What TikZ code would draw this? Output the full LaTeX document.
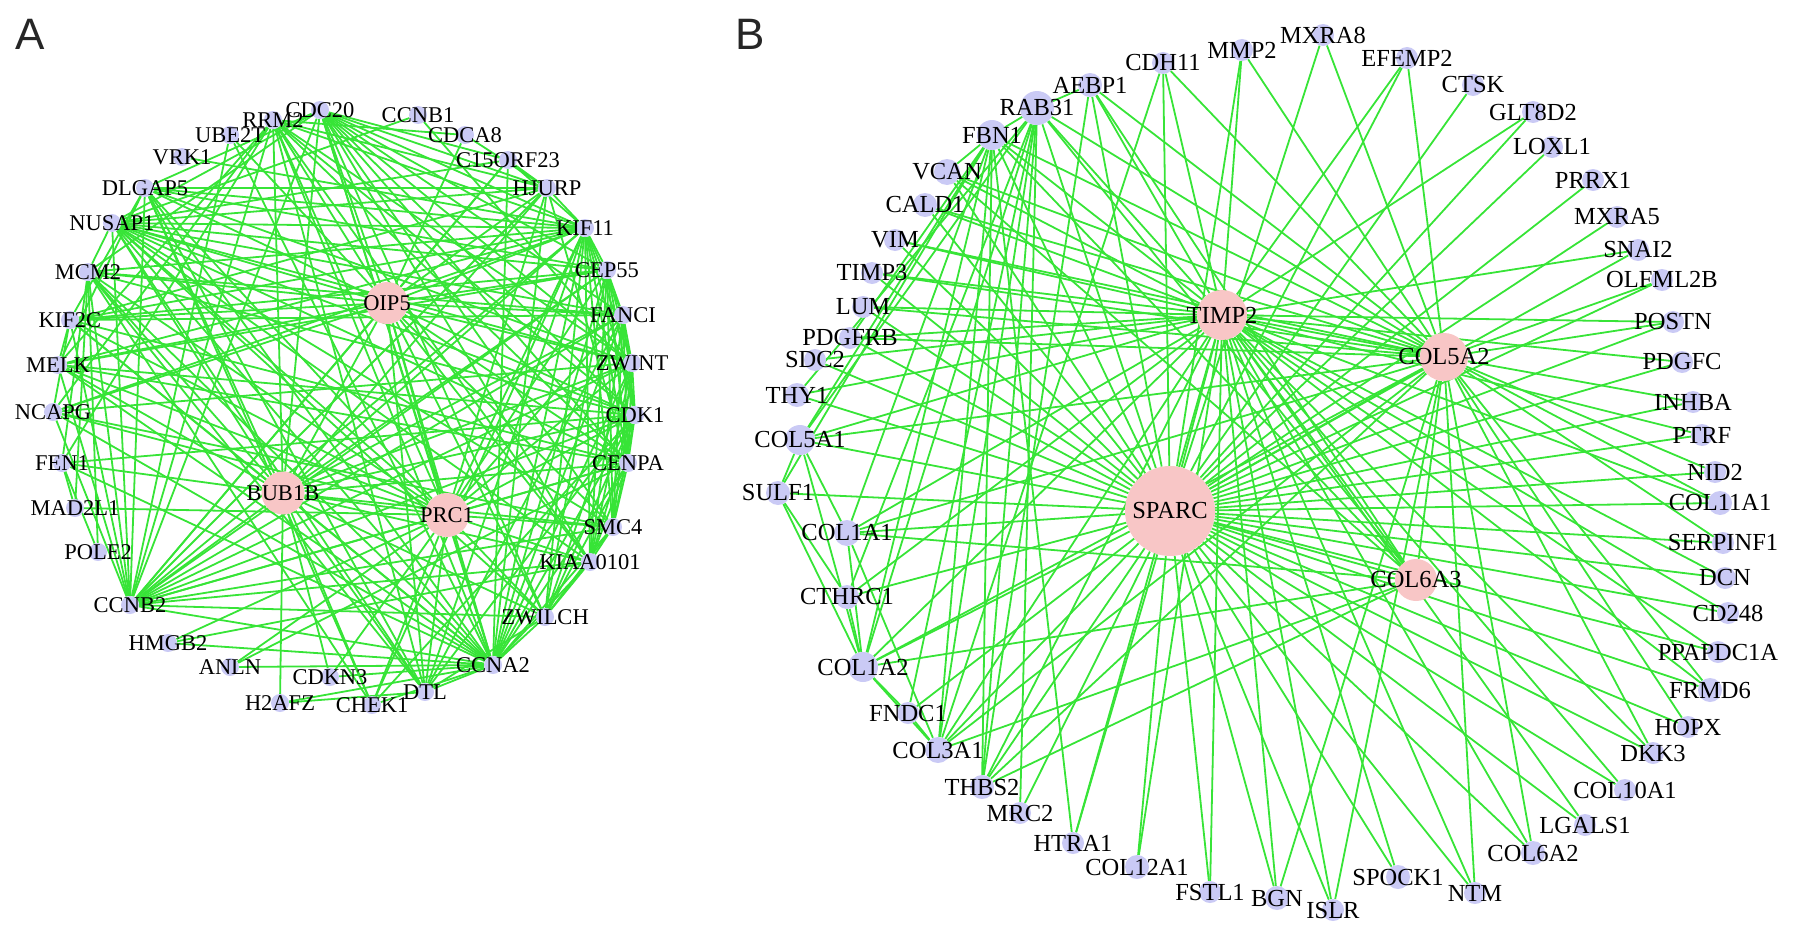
\documentclass[tikz,border=0pt]{standalone}
\usepackage{fontspec}
\setmainfont{Liberation Serif}
\newfontfamily\panelfont{Liberation Sans}
\newcommand\labA{\fontsize{22.5}{22.5}\selectfont}
\newcommand\labB{\fontsize{24.5}{24.5}\selectfont}
\definecolor{eg}{RGB}{55,228,55}
\definecolor{nb}{RGB}{202,202,245}
\definecolor{hp}{RGB}{248,198,198}
\pgfdeclarelayer{edges}
\pgfsetlayers{edges,main}
\tikzset{
 pa/.style={circle, fill=nb, minimum size=18pt, inner sep=0pt},
 pb/.style={circle, fill=nb, minimum size=22pt, inner sep=0pt},
 hub/.style={circle, fill=hp, inner sep=0pt},
 la/.style={font=\labA, text=black, inner sep=0pt},
 lb/.style={font=\labB, text=black, inner sep=0pt},
 ed/.style={draw=eg, line width=1.8pt},
 panel/.style={font=\panelfont\fontsize{44}{44}\selectfont, text=black!85}
}
\begin{document}
\begin{tikzpicture}[x=1pt,y=-1pt]
\useasboundingbox (0,0) rectangle (1795,934);
\node[panel] (LA) at (30,34) {A};
\node[panel] (LB) at (750,34) {B};
% ---------------- Panel A nodes
\foreach \n/\x/\y in {CDC20/320/110, CCNB1/418/115, CDCA8/465/135, C15ORF23/508/160, HJURP/547/188, KIF11/585/228, CEP55/607/270, FANCI/623/315, ZWINT/632/363, CDK1/635/415, CENPA/628/463, SMC4/613/527, KIAA0101/590/562, ZWILCH/545/617, CCNA2/493/665, DTL/425/692, CHEK1/372/705, CDKN3/330/677, H2AFZ/280/703, ANLN/230/667, HMGB2/168/643, CCNB2/130/605, POLE2/98/552, MAD2L1/75/508, FEN1/62/463, NCAPG/53/412, MELK/58/365, KIF2C/70/320, MCM2/88/272, NUSAP1/112/223, DLGAP5/145/188, VRK1/182/157, UBE2T/230/135, RRM2/273/120}
  \node[pa, label={[la]center:\n}] (\n) at (\x,\y) {};
\node[hub, minimum size=42pt, label={[la]center:OIP5}] (OIP5) at (387,303) {};
\node[hub, minimum size=43pt, label={[la]center:BUB1B}] (BUB1B) at (283,493) {};
\node[hub, minimum size=44pt, label={[la]center:PRC1}] (PRC1) at (447,515) {};
% ---------------- Panel B nodes
\foreach \n/\x/\y/\s in {AEBP1/1090/85/24, CDH11/1163/63/22, MMP2/1242/50/22, MXRA8/1323/35/22, EFEMP2/1407/58/22, CTSK/1473/85/22, GLT8D2/1533/112/22, LOXL1/1552/147/22, PRRX1/1593/180/22, MXRA5/1617/217/22, SNAI2/1638/250/22, OLFML2B/1662/280/22, POSTN/1673/322/22, PDGFC/1682/362/22, INHBA/1693/402/22, PTRF/1702/435/22, NID2/1715/472/22, COL11A1/1720/503/24, SERPINF1/1723/543/22, DCN/1725/578/22, CD248/1728/613/22, PPAPDC1A/1718/652/22, FRMD6/1710/690/24, HOPX/1688/727/22, DKK3/1653/753/22, COL10A1/1625/790/22, LGALS1/1585/825/22, COL6A2/1533/853/24, NTM/1475/893/22, SPOCK1/1398/877/24, ISLR/1333/910/22, BGN/1277/898/24, FSTL1/1210/892/22, COL12A1/1137/867/24, HTRA1/1073/843/22, MRC2/1020/813/22, THBS2/982/787/24, COL3A1/938/750/26, FNDC1/908/713/22, COL1A2/863/667/30, CTHRC1/847/597/24, COL1A1/847/533/26, SULF1/778/493/24, COL5A1/800/440/30, THY1/797/395/24, SDC2/815/360/22, PDGFRB/850/338/22, LUM/863/307/22, TIMP3/872/273/22, VIM/895/240/22, CALD1/925/205/24, VCAN/947/172/26, FBN1/992/135/30, RAB31/1037/108/34}
  \node[pb, minimum size=\s pt, label={[lb]center:\n}] (\n) at (\x,\y) {};
\node[hub, minimum size=50pt, label={[lb]center:TIMP2}] (TIMP2) at (1222,315) {};
\node[hub, minimum size=48pt, label={[lb]center:COL5A2}] (COL5A2) at (1444,357) {};
\node[hub, minimum size=90pt, label={[lb]center:SPARC}] (SPARC) at (1170,511) {};
\node[hub, minimum size=42pt, label={[lb]center:COL6A3}] (COL6A3) at (1416,580) {};
% ---------------- Edges
\begin{pgfonlayer}{edges}
\foreach \h/\lst in {
 OIP5/{NUSAP1,MCM2,KIF2C,DLGAP5,RRM2,CDC20,UBE2T,KIF11,HJURP,CEP55,FANCI,ZWINT,CDK1,CENPA,CCNA2,CCNB2,ZWILCH,KIAA0101,DTL,BUB1B,PRC1,MELK,C15ORF23,NCAPG,SMC4,CDCA8},
 BUB1B/{CDC20,RRM2,NUSAP1,DLGAP5,MCM2,KIF2C,CCNB2,CCNA2,KIF11,CDK1,ZWINT,FANCI,CENPA,SMC4,ZWILCH,DTL,CHEK1,PRC1,HJURP,MELK,FEN1,CEP55,KIAA0101,H2AFZ,CDKN3},
 PRC1/{NUSAP1,KIF11,CEP55,CDK1,CCNA2,CCNB2,ZWINT,CENPA,DLGAP5,KIF2C,ZWILCH,KIAA0101,RRM2,CDC20,HMGB2,ANLN,CDKN3,MCM2,SMC4,CHEK1,DTL,FANCI,HJURP,MELK,NCAPG,MAD2L1},
 CDC20/{KIF11,CEP55,FANCI,ZWINT,CDK1,CCNA2,CCNB2,NUSAP1,DLGAP5,MCM2,CENPA,ZWILCH,KIAA0101,SMC4,HJURP,C15ORF23},
 RRM2/{KIF11,CDK1,ZWINT,CCNA2,MELK,NCAPG,FEN1,CCNB2,KIAA0101,HJURP,CENPA,CDCA8,DTL},
 NUSAP1/{KIF11,CEP55,FANCI,ZWINT,CDK1,CCNA2,CCNB2,HJURP,CENPA,SMC4,ZWILCH,KIAA0101,DTL,MCM2,C15ORF23,CCNB1},
 CCNB2/{KIF11,CEP55,ZWINT,CDK1,CCNA2,HJURP,MCM2,DLGAP5,KIF2C,MELK,CENPA,FANCI,SMC4,ZWILCH,KIAA0101,UBE2T,NCAPG,C15ORF23},
 CCNA2/{KIF11,CEP55,FANCI,ZWINT,CDK1,CENPA,SMC4,KIAA0101,ZWILCH,DTL,CHEK1,MCM2,KIF2C,MELK,NCAPG,FEN1,DLGAP5,HJURP,C15ORF23,CDKN3,ANLN,HMGB2},
 KIF11/{CEP55,FANCI,ZWINT,CDK1,CENPA,SMC4,KIAA0101,ZWILCH,DLGAP5,KIF2C,MCM2,MELK,NCAPG,DTL,HJURP,CHEK1,C15ORF23},
 CEP55/{FANCI,ZWINT,CDK1,CENPA,ZWILCH,KIAA0101,DLGAP5,KIF2C,MELK,SMC4},
 FANCI/{ZWINT,CDK1,CENPA,SMC4,MCM2,DTL,KIF2C,KIAA0101},
 ZWINT/{CDK1,CENPA,SMC4,ZWILCH,KIAA0101,DLGAP5,NCAPG},
 CDK1/{CENPA,SMC4,KIAA0101,ZWILCH,DTL,MELK,FEN1,MCM2,CHEK1},
 CENPA/{SMC4,ZWILCH,KIAA0101,MELK,HJURP,KIF2C},
 SMC4/{KIAA0101,ZWILCH,NCAPG},
 ZWILCH/{KIAA0101,DTL},
 DLGAP5/{HJURP,KIF2C,MELK,CHEK1,DTL},
 KIF2C/{MELK,NCAPG,HJURP},
 MCM2/{FEN1,MAD2L1,CHEK1,POLE2,DTL},
 HJURP/{C15ORF23,CDCA8},
 FEN1/{MAD2L1,POLE2},
 H2AFZ/{DTL,CCNA2},
 VRK1/{KIF11}, UBE2T/{CCNA2}, CCNB1/{ZWINT}, HMGB2/{KIAA0101}, ANLN/{CENPA},
 SPARC/{AEBP1,CDH11,MMP2,MXRA8,EFEMP2,CTSK,GLT8D2,LOXL1,PRRX1,MXRA5,SNAI2,OLFML2B,POSTN,PDGFC,INHBA,PTRF,NID2,COL11A1,SERPINF1,DCN,CD248,PPAPDC1A,FRMD6,HOPX,DKK3,COL10A1,LGALS1,COL6A2,NTM,SPOCK1,ISLR,BGN,FSTL1,COL12A1,HTRA1,MRC2,THBS2,COL3A1,FNDC1,COL1A2,CTHRC1,COL1A1,SULF1,COL5A1,THY1,SDC2,PDGFRB,LUM,TIMP3,VIM,CALD1,VCAN,FBN1,RAB31,TIMP2,COL5A2,COL6A3},
 TIMP2/{AEBP1,CDH11,MMP2,EFEMP2,GLT8D2,SNAI2,POSTN,PDGFC,PTRF,COL11A1,DCN,CD248,PPAPDC1A,FRMD6,DKK3,COL10A1,LGALS1,COL6A2,NTM,SPOCK1,ISLR,BGN,FSTL1,COL12A1,HTRA1,THBS2,COL3A1,COL1A2,CTHRC1,COL1A1,COL5A1,THY1,SDC2,PDGFRB,LUM,TIMP3,VIM,CALD1,VCAN,FBN1,RAB31,COL5A2,COL6A3},
 COL5A2/{AEBP1,CDH11,MMP2,MXRA8,EFEMP2,OLFML2B,POSTN,INHBA,NID2,COL11A1,SERPINF1,FRMD6,HOPX,DKK3,COL6A2,NTM,ISLR,BGN,THBS2,COL3A1,COL1A2,COL1A1,COL5A1,PDGFRB,LUM,TIMP3,VIM,CALD1,VCAN,FBN1,RAB31,COL6A3},
 COL6A3/{AEBP1,THBS2,COL3A1,COL1A2,COL1A1,VCAN,FBN1,RAB31},
 RAB31/{FBN1,AEBP1,COL3A1,THBS2,COL1A2,CTHRC1,COL5A1,THY1,FNDC1,MRC2},
 FBN1/{VCAN,COL3A1,THBS2,COL1A2,COL1A1,COL5A1,SULF1,PDGFRB,HTRA1},
 COL1A2/{COL1A1,CTHRC1,COL5A1,SULF1,FNDC1,COL3A1},
 COL3A1/{COL1A1,FNDC1,CDH11},
 COL1A1/{COL5A1}, SULF1/{COL5A1,CTHRC1}, THBS2/{AEBP1}}
 \foreach \t in \lst \draw[ed] (\h) -- (\t);
\end{pgfonlayer}
\end{tikzpicture}
\end{document}
